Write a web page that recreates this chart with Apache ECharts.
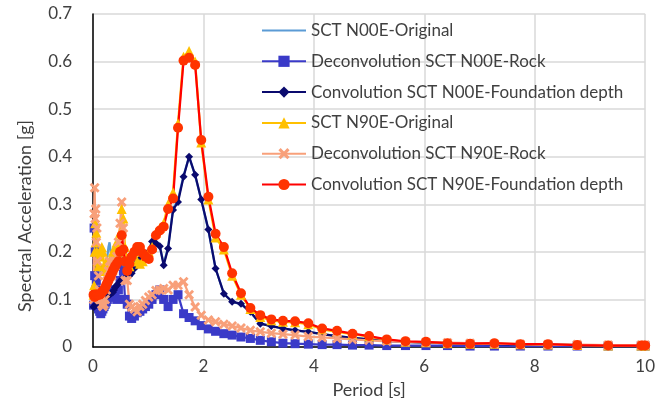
<!DOCTYPE html>
<html>
<head>
<meta charset="utf-8">
<script src="https://cdn.jsdelivr.net/npm/echarts@6/dist/echarts.min.js"></script>
<style>html,body{margin:0;padding:0;background:#fff}#c{width:658px;height:407px}</style>
</head>
<body>
<div id="c"></div>
<script>
const periods = [0.01,0.02,0.03,0.04,0.05,0.06,0.07,0.08,0.1,0.12,0.14,0.16,0.18,0.2,0.22,0.24,0.26,0.28,0.3,0.32,0.34,0.36,0.38,0.4,0.43,0.46,0.49,0.52,0.55,0.58,0.62,0.66,0.7,0.75,0.8,0.85,0.9,0.95,1.01,1.07,1.14,1.21,1.28,1.36,1.45,1.54,1.64,1.74,1.85,1.96,2.09,2.22,2.37,2.52,2.68,2.85,3.03,3.23,3.44,3.66,3.9,4.15,4.42,4.7,5.0,5.32,5.66,6.03,6.42,6.83,7.27,7.74,8.24,8.77,9.33,9.93,10.0];

const n00eOriginal = [0.085,0.1,0.16,0.22,0.2,0.25,0.19,0.17,0.16,0.15,0.16,0.17,0.16,0.15,0.16,0.17,0.19,0.21,0.22,0.2,0.19,0.2,0.21,0.2,0.18,0.17,0.19,0.2,0.18,0.16,0.15,0.16,0.17,0.18,0.185,0.19,0.2,0.2,0.205,0.222,0.218,0.212,0.175,0.21,0.29,0.31,0.36,0.4,0.36,0.31,0.245,0.165,0.112,0.095,0.09,0.073,0.049,0.044,0.039,0.035,0.032,0.027,0.023,0.019,0.016,0.013,0.011,0.009,0.008,0.007,0.006,0.005,0.005,0.004,0.003,0.003,0.003];

const n00eRock = [0.088,0.25,0.15,0.2,0.12,0.14,0.09,0.1,0.08,0.075,0.07,0.075,0.08,0.085,0.09,0.095,0.1,0.11,0.12,0.115,0.105,0.11,0.12,0.105,0.1,0.12,0.14,0.17,0.16,0.1,0.09,0.065,0.06,0.065,0.072,0.075,0.08,0.085,0.09,0.1,0.11,0.12,0.1,0.085,0.1,0.11,0.07,0.062,0.055,0.045,0.038,0.033,0.028,0.025,0.021,0.018,0.014,0.011,0.008,0.007,0.006,0.005,0.005,0.004,0.004,0.003,0.003,0.003,0.003,0.002,0.002,0.002,0.002,0.002,0.002,0.002,0.002];

const n00eFoundation = [0.084,0.085,0.086,0.088,0.088,0.09,0.09,0.09,0.09,0.09,0.092,0.095,0.098,0.1,0.103,0.106,0.108,0.11,0.11,0.112,0.114,0.115,0.12,0.125,0.13,0.133,0.138,0.142,0.14,0.145,0.147,0.15,0.155,0.165,0.178,0.186,0.19,0.196,0.2,0.222,0.218,0.212,0.172,0.207,0.288,0.305,0.358,0.4,0.362,0.31,0.247,0.165,0.112,0.095,0.091,0.074,0.049,0.044,0.039,0.035,0.032,0.027,0.023,0.019,0.016,0.013,0.011,0.009,0.008,0.007,0.006,0.005,0.005,0.004,0.003,0.003,0.003];

const n90eOriginal = [0.11,0.13,0.2,0.26,0.22,0.24,0.2,0.18,0.17,0.19,0.2,0.21,0.2,0.17,0.16,0.18,0.17,0.15,0.16,0.17,0.19,0.2,0.19,0.21,0.22,0.2,0.24,0.29,0.27,0.21,0.18,0.17,0.18,0.2,0.18,0.175,0.18,0.19,0.2,0.21,0.24,0.25,0.26,0.3,0.325,0.47,0.61,0.622,0.6,0.43,0.31,0.23,0.205,0.15,0.11,0.08,0.063,0.056,0.053,0.052,0.048,0.037,0.032,0.027,0.022,0.015,0.011,0.01,0.008,0.007,0.007,0.006,0.005,0.004,0.003,0.003,0.003];

const n90eRock = [0.1,0.28,0.335,0.27,0.29,0.22,0.25,0.18,0.15,0.12,0.1,0.09,0.085,0.09,0.1,0.12,0.14,0.16,0.18,0.17,0.15,0.16,0.18,0.17,0.19,0.22,0.26,0.305,0.25,0.14,0.14,0.09,0.084,0.08,0.074,0.085,0.09,0.098,0.105,0.11,0.119,0.12,0.123,0.12,0.13,0.13,0.137,0.11,0.084,0.067,0.057,0.053,0.048,0.044,0.04,0.035,0.032,0.029,0.027,0.025,0.022,0.02,0.018,0.016,0.014,0.012,0.011,0.01,0.009,0.008,0.007,0.006,0.005,0.005,0.004,0.004,0.004];

const n90eFoundation = [0.11,0.11,0.105,0.11,0.11,0.11,0.11,0.11,0.11,0.11,0.112,0.115,0.118,0.12,0.125,0.13,0.135,0.14,0.145,0.15,0.155,0.16,0.165,0.17,0.175,0.18,0.2,0.235,0.205,0.18,0.16,0.175,0.19,0.2,0.21,0.21,0.197,0.19,0.185,0.205,0.235,0.245,0.253,0.29,0.312,0.461,0.602,0.608,0.593,0.435,0.316,0.238,0.21,0.155,0.113,0.082,0.067,0.058,0.055,0.054,0.05,0.039,0.034,0.028,0.023,0.016,0.012,0.011,0.008,0.007,0.008,0.006,0.006,0.004,0.003,0.003,0.003];

const seriesNames = ['SCT N00E-Original','Deconvolution SCT N00E-Rock','Convolution SCT N00E-Foundation depth','SCT N90E-Original','Deconvolution SCT N90E-Rock','Convolution SCT N90E-Foundation depth'];
const xTicks = {min:0, max:10, interval:2};
const yTicks = {min:0, max:0.7, interval:0.1};
const xTitle = 'Period [s]';
const yTitle = 'Spectral Acceleration [g]';

const pair = v => periods.map((t,i)=>[t,v[i]]);
const X = 'path://M2,0 L5,3 L8,0 L10,2 L7,5 L10,8 L8,10 L5,7 L2,10 L0,8 L3,5 L0,2 Z';
const LINE_ICON = 'path://M0,0 L0.01,0 L0,0.01 Z M0,5.9 L44,5.9 L44,8.1 L0,8.1 Z M44,14 L43.99,14 L44,13.99 Z';
const F = 'Lato, "Liberation Sans", sans-serif';

function s(name, data, lineColor, markColor, symbol, size){
  return {name, type:'line', data:pair(data), smooth:false,
    symbol: symbol, symbolSize:size, showSymbol: symbol!=='none',
    lineStyle:{color:lineColor, width:2.25},
    itemStyle:{color:markColor, borderWidth:0},
    emphasis:{disabled:true}, animation:false, z:2};
}

const chart = echarts.init(document.getElementById('c'), null, {renderer:'canvas'});
chart.setOption({
  animation:false,
  grid:{left:93, right:8, top:14, bottom:60, containLabel:false},
  legend:{
    orient:'vertical', left:256, top:17, itemWidth:44, itemHeight:14, itemGap:13.8,
    textStyle:{fontFamily:F, fontSize:17, color:'#404040', lineHeight:14},
    data:[{name:seriesNames[0], icon:LINE_ICON, itemStyle:{color:'#5b9bd5'}}, seriesNames[1], seriesNames[2], seriesNames[3], seriesNames[4], seriesNames[5]]
  },
  graphic:[{type:'text', x:25, y:216, rotation:Math.PI/2, silent:true,
    style:{text:yTitle, fontFamily:F, fontSize:18, fill:'#404040', align:'center', verticalAlign:'middle'}}],
  xAxis:{type:'value', min:xTicks.min, max:xTicks.max, interval:xTicks.interval,
    name:xTitle, nameLocation:'middle', nameGap:34,
    nameTextStyle:{fontFamily:F, fontSize:18, color:'#404040'},
    axisLine:{show:true, onZero:false, lineStyle:{color:'#000', width:1.5}},
    axisTick:{show:false},
    axisLabel:{fontFamily:F, fontSize:17, color:'#404040', margin:11},
    splitLine:{show:true, lineStyle:{color:'#d9d9d9', width:1.5}}
  },
  yAxis:{type:'value', min:yTicks.min, max:yTicks.max, interval:yTicks.interval,
    axisLine:{show:true, lineStyle:{color:'#000', width:1.5}},
    axisTick:{show:false},
    axisLabel:{fontFamily:F, fontSize:17, color:'#404040', margin:21,
      formatter: v => v===0 ? '0' : v.toFixed(1)},
    splitLine:{show:true, lineStyle:{color:'#d9d9d9', width:1.5}}
  },
  series:[
    s(seriesNames[0], n00eOriginal, '#5b9bd5', '#5b9bd5', 'none', 0),
    s(seriesNames[1], n00eRock, '#3a3ac8', '#3a3ac8', 'rect', 9),
    s(seriesNames[2], n00eFoundation, '#0a0a6e', '#0a0a6e', 'diamond', 8),
    s(seriesNames[3], n90eOriginal, '#ffc000', '#ffc000', 'triangle', 10),
    s(seriesNames[4], n90eRock, '#f8a07a', '#f8a07a', X, 10),
    s(seriesNames[5], n90eFoundation, '#ff0000', '#ff3300', 'circle', 10)
  ]
});
</script>
</body>
</html>
